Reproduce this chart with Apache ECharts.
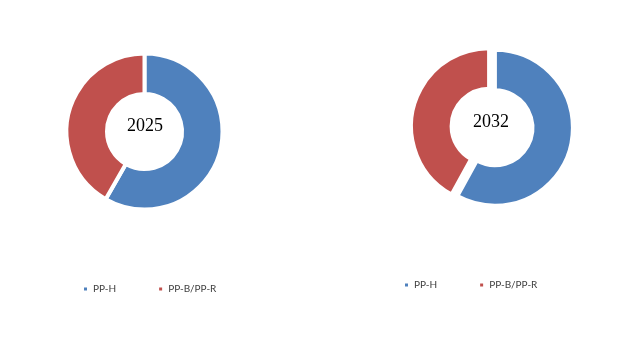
<!DOCTYPE html>
<html>
<head>
<meta charset="utf-8">
<script src="https://cdn.jsdelivr.net/npm/echarts@6/dist/echarts.min.js"></script>
<style>
html,body{margin:0;padding:0;background:#fff;}
#chart{width:644px;height:345px;}
</style>
</head>
<body>
<div id="chart"></div>
<script>
const categories = ['PP-H', 'PP-B/PP-R'];
const years = ['2025', '2032'];
const share2025 = [58.3, 41.7];
const share2032 = [58.0, 42.0];

const colors = ['#4F81BD', '#C0504D'];
const chart = echarts.init(document.getElementById('chart'), null, {renderer: 'canvas'});

function pieData(vals, selected) {
  return categories.map((c, i) => ({
    name: c, value: vals[i], selected: selected,
    itemStyle: {color: colors[i]}
  }));
}

const legendText = {fontFamily: 'Lato', fontSize: 10, color: '#404040', lineHeight: 12};

chart.setOption({
  animation: false,
  backgroundColor: '#ffffff',
  color: colors,
  legend: [
    {left: 82, top: 283, padding: 0, icon: 'rect', itemWidth: 5, itemHeight: 5, itemGap: 41,
     data: categories, textStyle: legendText, selectedMode: false},
    {left: 403, top: 279, padding: 0, icon: 'rect', itemWidth: 5, itemHeight: 5, itemGap: 41,
     data: categories, textStyle: legendText, selectedMode: false}
  ],
  graphic: [
    {type: 'text', left: 127, top: 117, style: {text: years[0], font: '18px "Liberation Serif"', fill: '#000'}},
    {type: 'text', left: 473, top: 113, style: {text: years[1], font: '18px "Liberation Serif"', fill: '#000'}}
  ],
  series: [
    {type: 'pie', center: [144.5, 131.5], radius: [37.5, 78], startAngle: 90, clockwise: true,
     label: {show: false}, labelLine: {show: false}, silent: true,
     itemStyle: {borderColor: '#fff', borderWidth: 4},
     data: pieData(share2025, false)},
    {type: 'pie', center: [492, 127], radius: [37.5, 78], startAngle: 90, clockwise: true,
     label: {show: false}, labelLine: {show: false}, silent: true,
     selectedMode: 'multiple', selectedOffset: 3,
     itemStyle: {borderColor: '#fff', borderWidth: 4},
     data: pieData(share2032, true)}
  ]
});
</script>
</body>
</html>
